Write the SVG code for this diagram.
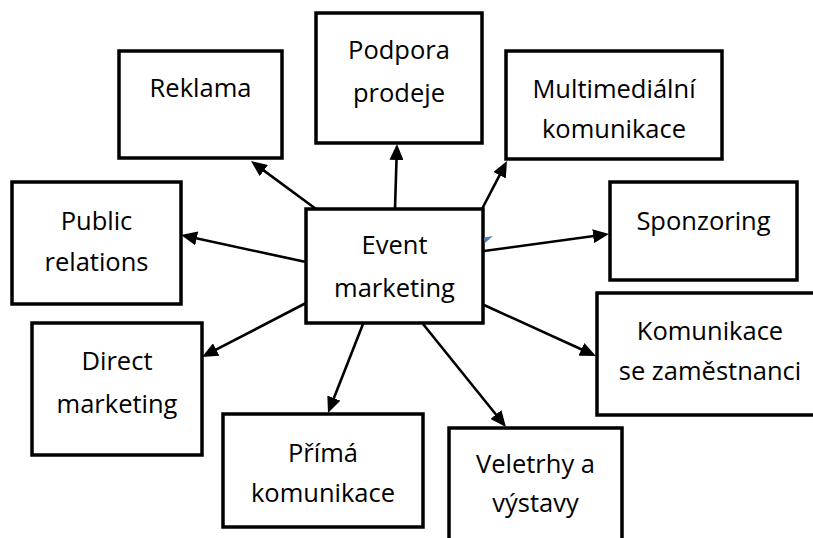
<svg xmlns="http://www.w3.org/2000/svg" width="813" height="538" viewBox="0 0 813 538">
  <style>
    .box { fill: #ffffff; stroke: #000000; stroke-width: 3.5; }
    .lbl { font-family: "Open Sans", "Liberation Sans", sans-serif; font-size: 25.5px; fill: #000000; text-anchor: middle; }
    .arrow { stroke: #000000; stroke-width: 2.6; fill: none; marker-end: url(#head); }
  </style>
  <defs>
    <marker id="head" markerUnits="userSpaceOnUse" markerWidth="17" markerHeight="14" refX="10" refY="7" orient="auto">
      <path d="M0,0 L16,7 L0,14 z" fill="#000000"/>
    </marker>
  </defs>
  <rect width="813" height="538" fill="#ffffff"/>

  <g id="connectors">
    <line class="arrow" x1="316" y1="209" x2="255.8" y2="164.6"/>
    <line class="arrow" x1="395" y1="209" x2="396.8" y2="150"/>
    <line class="arrow" x1="306" y1="262" x2="186.9" y2="236.3"/>
    <line class="arrow" x1="482" y1="209" x2="504.2" y2="166.3"/>
    <line class="arrow" x1="484" y1="251" x2="603.1" y2="234.8"/>
    <line class="arrow" x1="306" y1="303" x2="207.3" y2="354.2"/>
    <line class="arrow" x1="363" y1="324" x2="330.2" y2="407.4"/>
    <line class="arrow" x1="484" y1="305" x2="590.5" y2="353.5"/>
    <line class="arrow" x1="423" y1="324" x2="502.2" y2="422.3"/>
  </g>

  <g id="event-marketing">
    <rect class="box" x="306" y="209" width="177" height="114"/>
    <text class="lbl" x="394.5" y="254">Event</text>
    <text class="lbl" x="394.5" y="297">marketing</text>
    <path d="M484,237.5 L493,236 L485,243 z" fill="#4f81bd"/>
  </g>

  <g id="reklama">
    <rect class="box" x="119" y="51" width="163" height="107"/>
    <text class="lbl" x="200.5" y="97">Reklama</text>
  </g>

  <g id="podpora-prodeje">
    <rect class="box" x="316" y="13" width="166" height="130"/>
    <text class="lbl" x="399" y="59">Podpora</text>
    <text class="lbl" x="399" y="102">prodeje</text>
  </g>

  <g id="multimedialni-komunikace">
    <rect class="box" x="506" y="51" width="216" height="108"/>
    <text class="lbl" x="614" y="98">Multimediální</text>
    <text class="lbl" x="614" y="138">komunikace</text>
  </g>

  <g id="public-relations">
    <rect class="box" x="12" y="182" width="169" height="122"/>
    <text class="lbl" x="96.5" y="230">Public</text>
    <text class="lbl" x="96.5" y="271">relations</text>
  </g>

  <g id="sponzoring">
    <rect class="box" x="610" y="182" width="187" height="98"/>
    <text class="lbl" x="703.5" y="230">Sponzoring</text>
  </g>

  <g id="direct-marketing">
    <rect class="box" x="32" y="323" width="170" height="132"/>
    <text class="lbl" x="117" y="370">Direct</text>
    <text class="lbl" x="117" y="413">marketing</text>
  </g>

  <g id="komunikace-se-zamestnanci">
    <rect class="box" x="597" y="293" width="226" height="122"/>
    <text class="lbl" x="710" y="340">Komunikace</text>
    <text class="lbl" x="710" y="380">se zaměstnanci</text>
  </g>

  <g id="prima-komunikace">
    <rect class="box" x="223" y="414" width="200" height="113"/>
    <text class="lbl" x="323" y="462">Přímá</text>
    <text class="lbl" x="323" y="502">komunikace</text>
  </g>

  <g id="veletrhy-a-vystavy">
    <rect class="box" x="449" y="428" width="173" height="120"/>
    <text class="lbl" x="535.5" y="473">Veletrhy a</text>
    <text class="lbl" x="535.5" y="512">výstavy</text>
  </g>
</svg>
